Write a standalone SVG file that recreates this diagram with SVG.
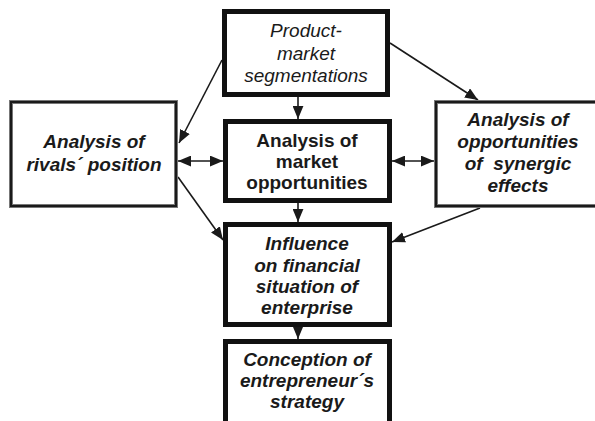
<svg xmlns="http://www.w3.org/2000/svg" width="595" height="421" viewBox="0 0 595 421">
<style>
.thick{fill:#fff;stroke:#111;stroke-width:5}
.thin{fill:#fff;stroke:#777;stroke-width:4}
.thinin{fill:none;stroke:#1a1a1a;stroke-width:2}
text{font-family:"Liberation Sans",Arial,sans-serif;font-size:19px;fill:#1a1a1a;text-anchor:middle}
.bi{font-weight:bold;font-style:italic}
.b{font-weight:bold}
.i{font-style:italic}
.c{stroke:#1a1a1a;stroke-width:1.6;fill:none}
</style>
<defs>
<marker id="ah" viewBox="0 0 12 10" refX="12" refY="5" markerWidth="13" markerHeight="11" markerUnits="userSpaceOnUse" orient="auto-start-reverse">
<path d="M0,0 L12,5 L0,10 Z" fill="#1a1a1a"/>
</marker>
</defs>
<rect width="595" height="421" fill="#fff"/>
<g id="connectors">
<line class="c" x1="222" y1="60" x2="179" y2="143" marker-end="url(#ah)"/>
<line class="c" x1="390" y1="43" x2="478" y2="100" marker-end="url(#ah)"/>
<line class="c" x1="298" y1="97" x2="298" y2="119" marker-end="url(#ah)"/>
<line class="c" x1="178" y1="161" x2="223" y2="161" marker-start="url(#ah)" marker-end="url(#ah)"/>
<line class="c" x1="392" y1="161" x2="434" y2="161" marker-start="url(#ah)" marker-end="url(#ah)"/>
<line class="c" x1="298" y1="203" x2="298" y2="222" marker-end="url(#ah)"/>
<line class="c" x1="178" y1="177" x2="223" y2="240" marker-end="url(#ah)"/>
<line class="c" x1="480" y1="208" x2="392" y2="242" marker-end="url(#ah)"/>
<line class="c" x1="298" y1="327" x2="298" y2="339" marker-end="url(#ah)"/>
</g>
<g id="product-market">
<rect class="thick" x="224.5" y="11.5" width="163" height="83"/>
<text class="i" x="306" y="37">Product-</text>
<text class="i" x="306" y="60">market</text>
<text class="i" x="306" y="82">segmentations</text>
</g>
<g id="rivals">
<rect class="thin" x="11" y="102" width="165" height="104"/>
<rect class="thinin" x="11" y="102" width="165" height="104"/>
<text class="bi" x="94" y="148">Analysis of</text>
<text class="bi" x="94" y="171">rivals´ position</text>
</g>
<g id="market">
<rect class="thick" x="225.5" y="121.5" width="164" height="79"/>
<text class="b" x="307" y="147">Analysis of</text>
<text class="b" x="307" y="168">market</text>
<text class="b" x="307" y="189">opportunities</text>
</g>
<g id="synergic">
<rect class="thin" x="436" y="102" width="170" height="104"/>
<rect class="thinin" x="436" y="102" width="170" height="104"/>
<text class="bi" x="518" y="126">Analysis of</text>
<text class="bi" x="518" y="148">opportunities</text>
<text class="bi" x="518" y="170">of&#160; synergic</text>
<text class="bi" x="518" y="192">effects</text>
</g>
<g id="influence">
<rect class="thick" x="225.5" y="224.5" width="164" height="100"/>
<text class="bi" x="307" y="250">Influence</text>
<text class="bi" x="307" y="272">on financial</text>
<text class="bi" x="307" y="293">situation of</text>
<text class="bi" x="307" y="314">enterprise</text>
</g>
<g id="conception">
<rect class="thick" x="225.5" y="341.5" width="164" height="100"/>
<text class="bi" x="307" y="366">Conception of</text>
<text class="bi" x="307" y="387">entrepreneur´s</text>
<text class="bi" x="307" y="408">strategy</text>
</g>
</svg>
